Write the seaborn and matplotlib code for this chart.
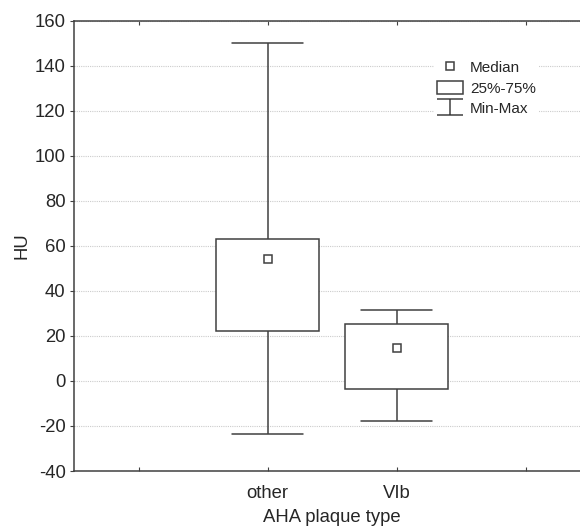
import numpy as np
import pandas as pd
import matplotlib
matplotlib.use("Agg")
import matplotlib.pyplot as plt
from matplotlib.lines import Line2D
from matplotlib.patches import Patch
from matplotlib.path import Path
import seaborn as sns

# ---- data ----
categories = ["other", "VIb"]
mins = [-23.7, -17.9]
q1s = [22.2, -3.4]
medians = [54.2, 14.7]
q3s = [63.0, 25.2]
maxs = [150.0, 31.6]
order = ["_l", "other", "VIb", "_r"]
order_labels = ["", "other", "VIb", ""]
yticks = [-40, -20, 0, 20, 40, 60, 80, 100, 120, 140, 160]

rows = []
for c, a, b, m, d, e in zip(categories, mins, q1s, medians, q3s, maxs):
    for v in (a, b, m, d, e):
        rows.append({"type": c, "HU": v})
df = pd.DataFrame(rows)

sns.set_style("white")
plt.rcParams["font.family"] = ["Liberation Sans", "DejaVu Sans"]
plt.rcParams["font.size"] = 11
plt.rcParams["axes.unicode_minus"] = False

LC = "#404040"
FS = 13.3
fig = plt.figure(figsize=(5.8, 5.26), dpi=100)
ax = fig.add_axes([74 / 580, 1 - 471 / 526, (590 - 74) / 580, (471 - 20.5) / 526])

sns.boxplot(data=df, x="type", y="HU", order=order, whis=np.inf, width=0.8,
            color="white", linecolor=LC, linewidth=1.1,
            medianprops={"visible": False}, capwidths=0.55, ax=ax)
sns.pointplot(data=df, x="type", y="HU", order=order, estimator="median",
              errorbar=None, linestyle="none", marker="s", color=LC,
              markerfacecolor="white", markeredgecolor=LC, markersize=6,
              markeredgewidth=1.1, ax=ax)

ax.set_ylim(-40, 160)
ax.set_xlim(-0.5, 3.5)
ax.set_yticks(yticks)
ax.set_xticks(range(len(order)))
ax.set_xticklabels(order_labels)
ax.set_xlabel("AHA plaque type", fontsize=FS, labelpad=5)
ax.set_ylabel("HU", fontsize=FS, labelpad=3)

ax.set_axisbelow(True)
ax.yaxis.grid(True, linestyle=(0, (1, 1)), color="#cccccc", linewidth=0.8)
ax.xaxis.grid(False)
for s in ax.spines.values():
    s.set_color(LC)
    s.set_linewidth(1.1)
ax.tick_params(axis="x", direction="in", length=3, top=True, bottom=True,
               color=LC, labelsize=FS, pad=10)
ax.tick_params(axis="y", direction="out", length=3, left=True, color=LC,
               labelsize=FS, pad=3)

cap_path = Path([(-1, 0.6), (1, 0.6), (0, 0.6), (0, -0.6), (-1, -0.6), (1, -0.6)],
                [Path.MOVETO, Path.LINETO, Path.MOVETO, Path.LINETO, Path.MOVETO, Path.LINETO])
handles = [
    Line2D([], [], linestyle="none", marker="s", markersize=5.5,
           markerfacecolor="white", markeredgecolor=LC, markeredgewidth=1.1),
    Patch(facecolor="white", edgecolor=LC, linewidth=1.1),
    Line2D([], [], linestyle="none", marker=cap_path, markersize=19,
           markeredgecolor=LC, markeredgewidth=1.1, fillstyle="none"),
]
leg = ax.legend(handles, ["Median", "25%-75%", "Min-Max"], loc="upper left",
                bbox_to_anchor=(0.682, 0.935), frameon=True, framealpha=1,
                facecolor="white", edgecolor="none", fontsize=11,
                handlelength=1.7, handleheight=0.95, handletextpad=0.5,
                labelspacing=0.35, borderpad=0.2, fancybox=False)

fig.savefig("out.png", dpi=100)
